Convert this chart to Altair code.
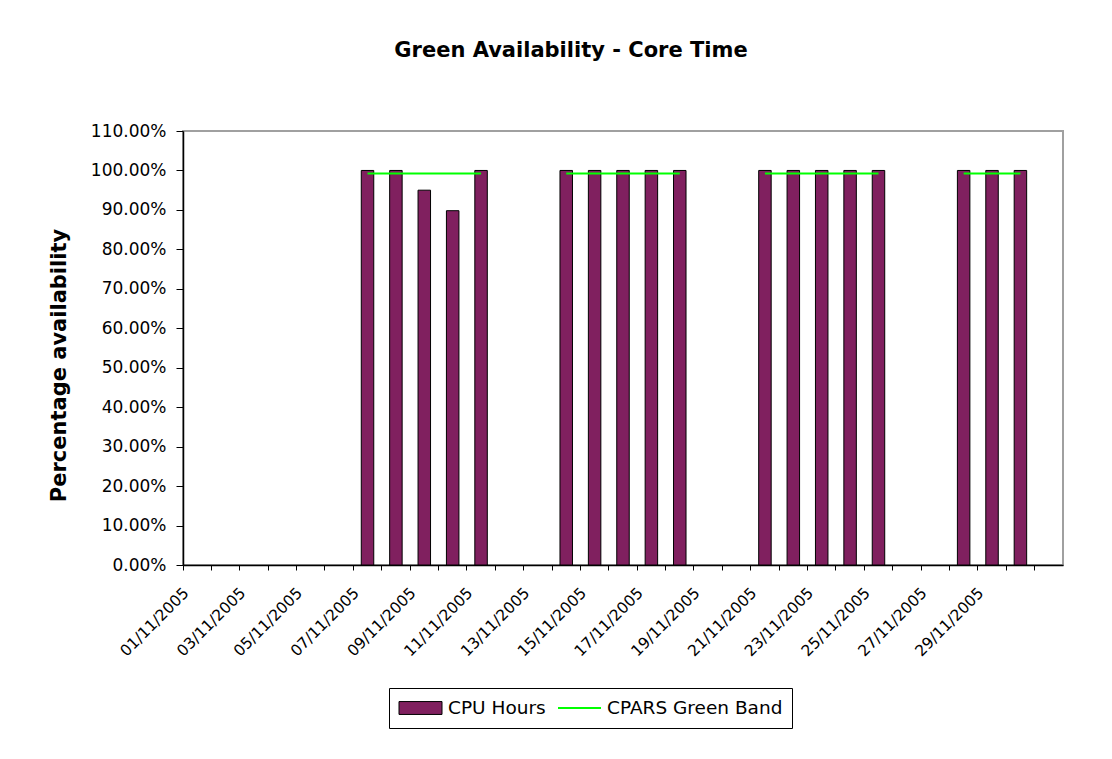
import altair as alt
import pandas as pd

# ---- data ----
dates = [
    "01/11/2005", "02/11/2005", "03/11/2005", "04/11/2005", "05/11/2005",
    "06/11/2005", "07/11/2005", "08/11/2005", "09/11/2005", "10/11/2005",
    "11/11/2005", "12/11/2005", "13/11/2005", "14/11/2005", "15/11/2005",
    "16/11/2005", "17/11/2005", "18/11/2005", "19/11/2005", "20/11/2005",
    "21/11/2005", "22/11/2005", "23/11/2005", "24/11/2005", "25/11/2005",
    "26/11/2005", "27/11/2005", "28/11/2005", "29/11/2005", "30/11/2005",
    "01/12/2005",
]
cpu_hours = [
    None, None, None, None, None, None,
    1.0, 1.0, 0.95, 0.898, 1.0,
    None, None,
    1.0, 1.0, 1.0, 1.0, 1.0,
    None, None,
    1.0, 1.0, 1.0, 1.0, 1.0,
    None, None,
    1.0, 1.0, 1.0,
    None,
]
green_band = [
    None, None, None, None, None, None,
    0.992, 0.992, 0.992, 0.992, 0.992,
    None, None,
    0.992, 0.992, 0.992, 0.992, 0.992,
    None, None,
    0.992, 0.992, 0.992, 0.992, 0.992,
    None, None,
    0.992, 0.992, 0.992,
    None,
]
week = [0, 0, 0, 0, 0, 0, 1, 1, 1, 1, 1, 1, 1, 2, 2, 2, 2, 2, 2, 2,
        3, 3, 3, 3, 3, 3, 3, 4, 4, 4, 4]
series = ["CPU Hours", "CPARS Green Band"]
fill_colors = ["#80205F", "transparent"]
stroke_colors = ["black", "#00FF00"]
y_ticks = [0.0, 0.1, 0.2, 0.3, 0.4, 0.5, 0.6, 0.7, 0.8, 0.9, 1.0, 1.1]

bars_df = pd.DataFrame({"date": dates, "value": cpu_hours, "series": series[0]}).dropna()
line_df = pd.DataFrame({"date": dates, "value": green_band, "week": week,
                        "series": series[1]}).dropna()

FONT = "DejaVu Sans"

x_enc = alt.X(
    "date:N",
    sort=dates,
    scale=alt.Scale(domain=dates, paddingInner=0, paddingOuter=0),
    axis=alt.Axis(
        title=None,
        bandPosition=0,
        labelAngle=315,
        labelAlign="right",
        labelBaseline="middle",
        labelPadding=20,
        labelOffset=-11,
        labelFontSize=15.5,
        labelColor="black",
        labelOverlap=False,
        labelExpr="(parseInt(slice(datum.value,0,2)) % 2 == 1 && slice(datum.value,3,5) == '11') ? datum.value : ''",
        tickColor="black",
        tickSize=5,
        domainColor="black",
        domainWidth=1.5,
        grid=False,
    ),
)

y_enc = alt.Y(
    "value:Q",
    scale=alt.Scale(domain=[0, 1.1], nice=False, zero=True),
    axis=alt.Axis(
        values=y_ticks,
        format=".2%",
        title="Percentage availability",
        titleFontSize=21,
        titleFontWeight="bold",
        titleColor="black",
        titleX=-124,
        titleY=234,
        titleAngle=270,
        titleAlign="center",
        titleBaseline="middle",
        labelFontSize=17,
        labelColor="black",
        labelPadding=10,
        tickColor="black",
        tickSize=7,
        domainColor="black",
        domainWidth=1.5,
        grid=False,
    ),
)


def make_legend():
    return alt.Legend(
        title=None,
        orient="none",
        legendX=206,
        legendY=557,
        direction="horizontal",
        strokeColor="black",
        fillColor="white",
        padding=9,
        columnPadding=11,
        labelOffset=5,
        labelFontSize=18.5,
        labelColor="black",
        labelLimit=400,
        clipHeight=22,
        symbolSize=1849,
        symbolOpacity=1,
        symbolType={"expr": "(datum.value === 'CPU Hours' ? 'M-1,-0.3H1V0.3H-1Z' : 'stroke')"},
        symbolStrokeWidth={"expr": "(datum.value === 'CPU Hours' ? 1 : 2)"},
    )


fill_enc = alt.Fill("series:N", scale=alt.Scale(domain=series, range=fill_colors), legend=make_legend())
stroke_enc = alt.Stroke("series:N", scale=alt.Scale(domain=series, range=stroke_colors), legend=make_legend())

bars = alt.Chart(bars_df).mark_bar(
    stroke="black", strokeWidth=1, width=alt.RelativeBandSize(0.44)
).encode(x=x_enc, y=y_enc, fill=fill_enc)

line = alt.Chart(line_df).mark_line(strokeWidth=2).encode(
    x=x_enc, y=y_enc, stroke=stroke_enc, detail="week:N"
)

chart = (
    alt.layer(bars, line)
    .properties(
        width=880,
        height=434,
        title=alt.TitleParams(
            "Green Availability - Core Time",
            fontSize=21,
            fontWeight="bold",
            color="black",
            anchor="middle",
            dx=-52,
            offset=44,
            baseline="alphabetic",
        ),
        autosize=alt.AutoSizeParams(type="none"),
        padding={"left": 175, "top": 123, "right": 30, "bottom": 190},
    )
    .configure(font=FONT, background="white")
    .configure_view(stroke="#A0A0A0", strokeWidth=2)
)

chart.save("out.html", embed_options={"renderer": "svg", "actions": False})
